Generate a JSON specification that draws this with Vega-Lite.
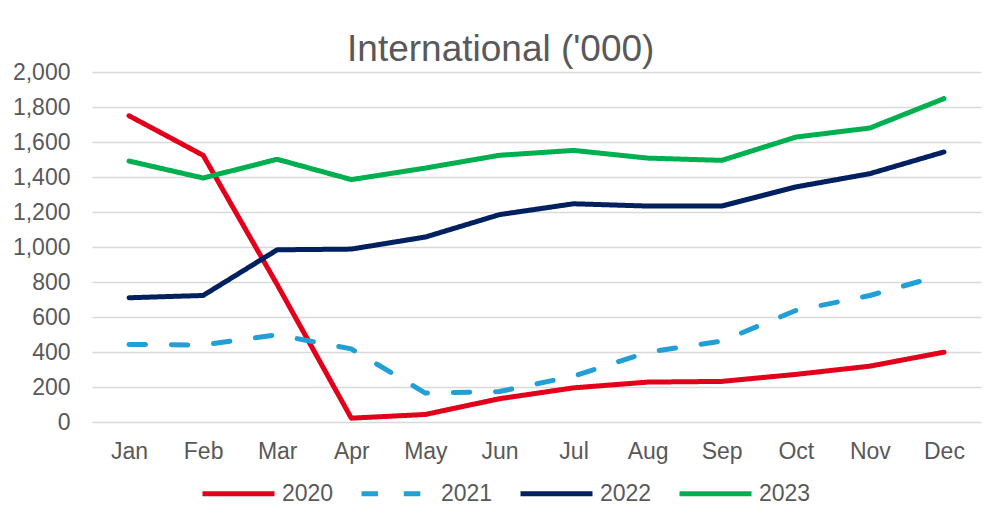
{
  "$schema": "https://vega.github.io/schema/vega-lite/v6.json",
  "width": 889,
  "height": 350,
  "autosize": {"type": "none"},
  "padding": {"left": 92, "top": 72, "right": 6, "bottom": 93},
  "background": "white",
  "title": {
    "text": "International ('000)",
    "font": "Liberation Sans",
    "fontSize": 37,
    "fontWeight": "normal",
    "color": "#595959",
    "anchor": "middle",
    "frame": "bounds",
    "baseline": "alphabetic",
    "offset": -37,
    "dx": 4
  },
  "data": {
    "values": [
      {"month": "Jan", "year": "2020", "value": 1750},
      {"month": "Feb", "year": "2020", "value": 1524},
      {"month": "Mar", "year": "2020", "value": 785},
      {"month": "Apr", "year": "2020", "value": 22},
      {"month": "May", "year": "2020", "value": 43},
      {"month": "Jun", "year": "2020", "value": 133},
      {"month": "Jul", "year": "2020", "value": 195},
      {"month": "Aug", "year": "2020", "value": 228},
      {"month": "Sep", "year": "2020", "value": 232},
      {"month": "Oct", "year": "2020", "value": 272},
      {"month": "Nov", "year": "2020", "value": 319},
      {"month": "Dec", "year": "2020", "value": 399},
      {"month": "Jan", "year": "2021", "value": 443},
      {"month": "Feb", "year": "2021", "value": 440},
      {"month": "Mar", "year": "2021", "value": 498},
      {"month": "Apr", "year": "2021", "value": 418},
      {"month": "May", "year": "2021", "value": 165},
      {"month": "Jun", "year": "2021", "value": 174},
      {"month": "Jul", "year": "2021", "value": 262},
      {"month": "Aug", "year": "2021", "value": 399},
      {"month": "Sep", "year": "2021", "value": 462},
      {"month": "Oct", "year": "2021", "value": 637},
      {"month": "Nov", "year": "2021", "value": 723},
      {"month": "Dec", "year": "2021", "value": 843},
      {"month": "Jan", "year": "2022", "value": 710},
      {"month": "Feb", "year": "2022", "value": 723},
      {"month": "Mar", "year": "2022", "value": 984},
      {"month": "Apr", "year": "2022", "value": 988},
      {"month": "May", "year": "2022", "value": 1057},
      {"month": "Jun", "year": "2022", "value": 1185},
      {"month": "Jul", "year": "2022", "value": 1247},
      {"month": "Aug", "year": "2022", "value": 1234},
      {"month": "Sep", "year": "2022", "value": 1234},
      {"month": "Oct", "year": "2022", "value": 1343},
      {"month": "Nov", "year": "2022", "value": 1419},
      {"month": "Dec", "year": "2022", "value": 1543},
      {"month": "Jan", "year": "2023", "value": 1491},
      {"month": "Feb", "year": "2023", "value": 1394},
      {"month": "Mar", "year": "2023", "value": 1501},
      {"month": "Apr", "year": "2023", "value": 1385},
      {"month": "May", "year": "2023", "value": 1451},
      {"month": "Jun", "year": "2023", "value": 1524},
      {"month": "Jul", "year": "2023", "value": 1552},
      {"month": "Aug", "year": "2023", "value": 1508},
      {"month": "Sep", "year": "2023", "value": 1495},
      {"month": "Oct", "year": "2023", "value": 1628},
      {"month": "Nov", "year": "2023", "value": 1680},
      {"month": "Dec", "year": "2023", "value": 1848}
    ]
  },
  "mark": {"type": "line", "strokeWidth": 5, "strokeCap": "round", "strokeJoin": "round"},
  "encoding": {
    "x": {
      "field": "month",
      "type": "ordinal",
      "sort": ["Jan","Feb","Mar","Apr","May","Jun","Jul","Aug","Sep","Oct","Nov","Dec"],
      "scale": {"type": "point", "padding": 0.5},
      "axis": {
        "title": null,
        "domain": false,
        "ticks": false,
        "grid": false,
        "labelAngle": 0,
        "labelFont": "Liberation Sans",
        "labelFontSize": 23,
        "labelColor": "#595959",
        "labelPadding": 18
      }
    },
    "y": {
      "field": "value",
      "type": "quantitative",
      "scale": {"domain": [0, 2000], "nice": false},
      "axis": {
        "title": null,
        "values": [0,200,400,600,800,1000,1200,1400,1600,1800,2000],
        "format": ",d",
        "domain": false,
        "ticks": false,
        "grid": true,
        "gridColor": "#d9d9d9",
        "gridWidth": 1.5,
        "labelFont": "Liberation Sans",
        "labelFontSize": 23,
        "labelColor": "#595959",
        "labelPadding": 22
      }
    },
    "color": {
      "field": "year",
      "type": "nominal",
      "scale": {"domain": ["2020","2021","2022","2023"], "range": ["#E2001A","#229FD5","#002060","#00B050"]},
      "legend": {
        "title": null,
        "orient": "none",
        "direction": "horizontal",
        "legendX": 108,
        "legendY": 383,
        "symbolType": "stroke",
        "symbolSize": 5184,
        "symbolStrokeWidth": 5,
        "labelFont": "Liberation Sans",
        "labelFontSize": 23,
        "labelColor": "#595959",
        "labelOffset": 5,
        "columnPadding": 17
      }
    },
    "strokeDash": {
      "field": "year",
      "type": "nominal",
      "scale": {"domain": ["2020","2021","2022","2023"], "range": [[1,0],[16.5,25.8],[1,0],[1,0]]},
      "legend": {
        "title": null,
        "orient": "none",
        "direction": "horizontal",
        "legendX": 108,
        "legendY": 383,
        "symbolType": "stroke",
        "symbolSize": 5184,
        "symbolStrokeWidth": 5,
        "labelFont": "Liberation Sans",
        "labelFontSize": 23,
        "labelColor": "#595959",
        "labelOffset": 5,
        "columnPadding": 17
      }
    }
  },
  "config": {"view": {"stroke": null}}
}
